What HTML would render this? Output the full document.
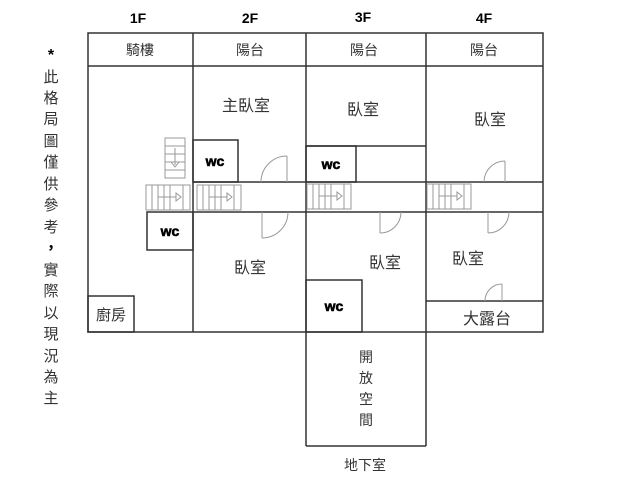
<!DOCTYPE html>
<html><head><meta charset="utf-8"><style>
html,body{margin:0;padding:0;background:#fff;}
svg{display:block;}
text{font-family:"Liberation Sans","Noto Sans CJK TC",sans-serif;fill:#333;}
.b{font-weight:bold;fill:#000;}
</style></head><body>
<svg width="640" height="480" viewBox="0 0 640 480">
<g fill="none" stroke="#333" stroke-width="1.5">
<rect x="88" y="33" width="455" height="299"/>
<line x1="88" y1="66" x2="543" y2="66"/>
<line x1="193" y1="33" x2="193" y2="332"/>
<line x1="306" y1="33" x2="306" y2="446"/>
<line x1="426" y1="33" x2="426" y2="446"/>
<line x1="306" y1="446" x2="426" y2="446"/>
<line x1="193" y1="182" x2="543" y2="182"/>
<line x1="193" y1="212" x2="543" y2="212"/>
<rect x="193" y="140" width="45" height="42"/>
<rect x="147" y="212" width="46" height="38"/>
<rect x="88" y="296" width="46" height="36"/>
<line x1="306" y1="146" x2="426" y2="146"/>
<rect x="306" y="146" width="50" height="36"/>
<rect x="306" y="280" width="56" height="52"/>
<line x1="426" y1="301" x2="543" y2="301"/>
</g>
<g fill="none" stroke="#999" stroke-width="1">
<rect x="165" y="138" width="20" height="40"/>
<line x1="165" y1="146" x2="185" y2="146"/><line x1="165" y1="154" x2="185" y2="154"/><line x1="165" y1="162" x2="185" y2="162"/><line x1="165" y1="170" x2="185" y2="170"/>
<line x1="175" y1="148" x2="175" y2="165"/><path d="M171 162 L175 167 L179 162Z"/>
<g id="st"><rect x="146" y="185" width="44" height="25"/>
<line x1="152" y1="185" x2="152" y2="210"/><line x1="158" y1="185" x2="158" y2="210"/><line x1="164" y1="185" x2="164" y2="210"/><line x1="170" y1="185" x2="170" y2="210"/><line x1="183" y1="185" x2="183" y2="210"/>
<line x1="158" y1="197" x2="176" y2="197"/><path d="M176 193 L181 197 L176 201Z"/></g>
<use href="#st" x="51"/>
<use href="#st" x="161" y="-1"/>
<use href="#st" x="281" y="-1"/>
<line x1="287" y1="156" x2="287" y2="182"/><path d="M261 182 A26 26 0 0 1 287 156"/>
<line x1="262" y1="212" x2="262" y2="238"/><path d="M262 238 A26 26 0 0 0 288 212"/>
<line x1="380" y1="212" x2="380" y2="233"/><path d="M380 233 A21 21 0 0 0 401 212"/>
<line x1="505" y1="161" x2="505" y2="182"/><path d="M484 182 A21 21 0 0 1 505 161"/>
<line x1="488" y1="212" x2="488" y2="233"/><path d="M488 233 A21 21 0 0 0 509 212"/>
<line x1="502" y1="284" x2="502" y2="301"/><path d="M485 301 A17 17 0 0 1 502 284"/>
</g>
<g font-size="14" text-anchor="middle">
<text x="138" y="23" class="b">1F</text><text x="250" y="23" class="b">2F</text>
<text x="363" y="22" class="b">3F</text><text x="484" y="23" class="b">4F</text>
</g>
<g font-size="14" text-anchor="middle">
<text x="140" y="55">騎樓</text><text x="250" y="55">陽台</text><text x="364" y="55">陽台</text><text x="484" y="55">陽台</text>
<text x="246" y="111" font-size="16">主臥室</text>
<text x="363" y="115" font-size="16">臥室</text>
<text x="490" y="125" font-size="16">臥室</text>
<text x="250" y="273" font-size="16">臥室</text>
<text x="385" y="268" font-size="16">臥室</text>
<text x="468" y="264" font-size="16">臥室</text>
<text x="111" y="320" font-size="15">廚房</text>
<text x="487" y="324" font-size="16">大露台</text>
<text x="365" y="470" font-size="14">地下室</text>
<text x="366" y="362">開</text><text x="366" y="383">放</text><text x="366" y="404">空</text><text x="366" y="425">間</text>
</g>
<g font-size="14" text-anchor="middle" style="font-weight:900" stroke="#000" stroke-width="0.6">
<text x="215" y="166" class="b">wc</text>
<text x="170" y="236" class="b">wc</text>
<text x="331" y="169" class="b">wc</text>
<text x="334" y="311" class="b">wc</text>
</g>
<g font-size="15" text-anchor="middle">
<text x="51" y="60" font-size="16" class="b">*</text>
<text x="51" y="82">此</text><text x="51" y="103">格</text><text x="51" y="124">局</text><text x="51" y="146">圖</text><text x="51" y="167">僅</text><text x="51" y="189">供</text><text x="51" y="210">參</text><text x="51" y="232">考</text><text x="51" y="253" class="b">，</text><text x="51" y="275">實</text><text x="51" y="296">際</text><text x="51" y="318">以</text><text x="51" y="339">現</text><text x="51" y="361">況</text><text x="51" y="382">為</text><text x="51" y="403">主</text>
</g>
</svg>
</body></html>
